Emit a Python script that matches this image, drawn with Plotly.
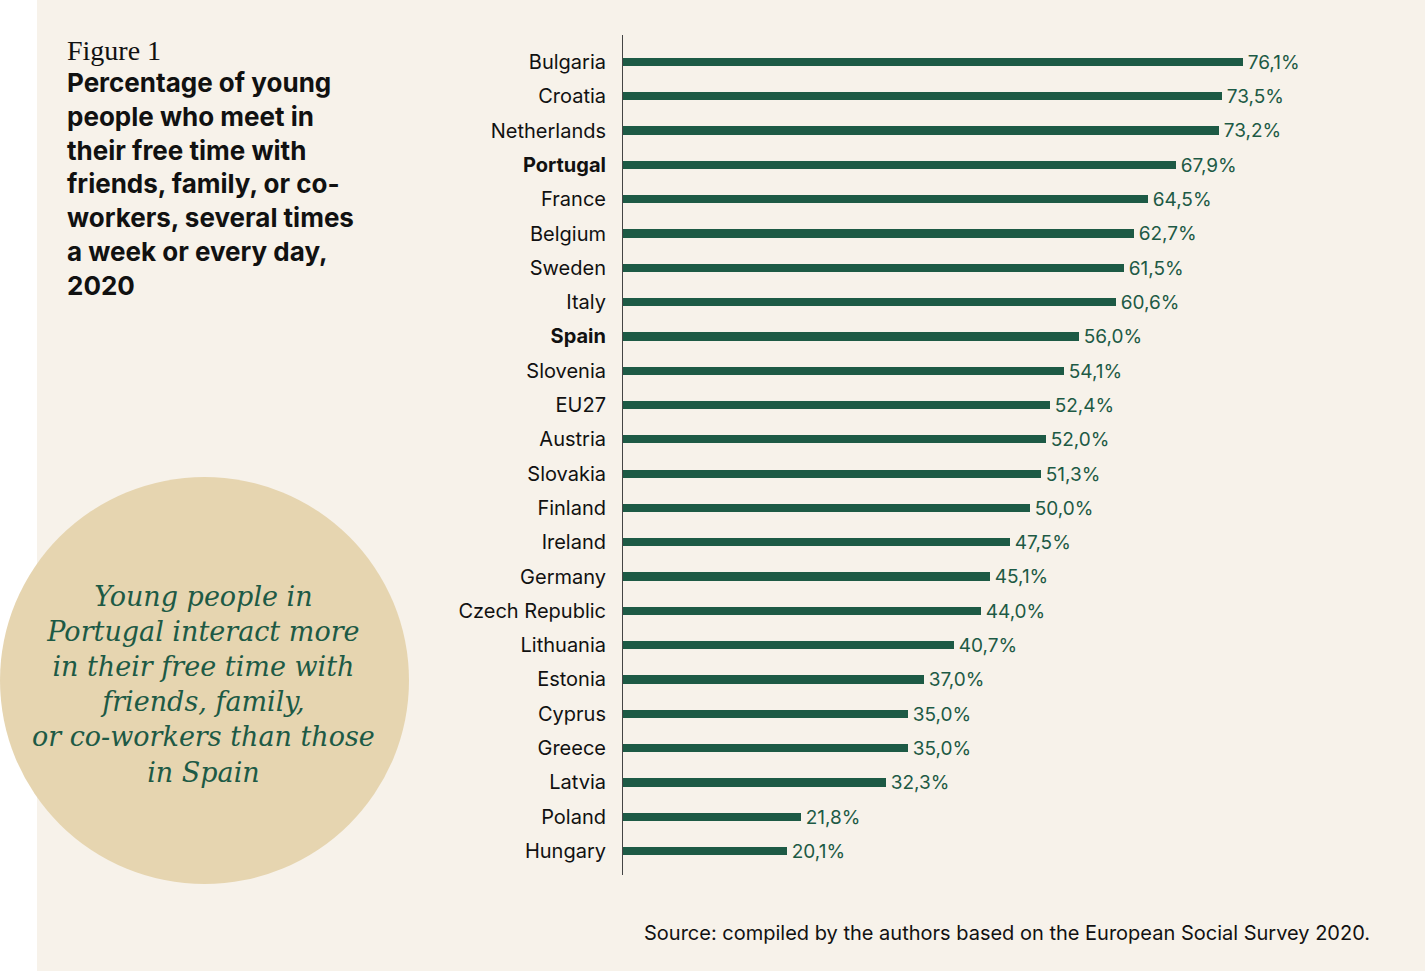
import plotly.graph_objects as go

# data
countries = ["Bulgaria", "Croatia", "Netherlands", "Portugal", "France", "Belgium",
             "Sweden", "Italy", "Spain", "Slovenia", "EU27", "Austria", "Slovakia",
             "Finland", "Ireland", "Germany", "Czech Republic", "Lithuania", "Estonia",
             "Cyprus", "Greece", "Latvia", "Poland", "Hungary"]
values = [76.1, 73.5, 73.2, 67.9, 64.5, 62.7, 61.5, 60.6, 56.0, 54.1, 52.4, 52.0,
          51.3, 50.0, 47.5, 45.1, 44.0, 40.7, 37.0, 35.0, 35.0, 32.3, 21.8, 20.1]
highlight = ["Portugal", "Spain"]

tick_text = ["<b>%s</b>" % c if c in highlight else c for c in countries]

GREEN = "#1d5a45"
CREAM = "#f7f2ea"
BEIGE = "#e6d5b0"

W, H = 1425, 971
L, R, T, B = 623, 0, 35, 96


def px(x):
    return (x - L) / (W - L - R)


def py(y):
    return (H - B - y) / (H - T - B)


fig = go.Figure()
fig.add_trace(go.Bar(
    x=values,
    y=countries,
    orientation="h",
    width=0.24,
    marker=dict(color=GREEN, line=dict(width=0)),
    texttemplate="\u200a%{x:.1f}%",
    textposition="outside",
    constraintext="none",
    cliponaxis=False,
    textfont=dict(family="Inter", size=19, color=GREEN),
    hoverinfo="skip",
))

shapes = [
    # cream panel, leaving a white strip at the left edge
    dict(type="rect", xref="paper", yref="paper", layer="below",
         x0=px(37), x1=px(W), y0=py(0), y1=py(H),
         fillcolor=CREAM, line=dict(width=0)),
    # callout circle
    dict(type="circle", xref="paper", yref="paper", layer="below",
         x0=px(0), x1=px(409), y0=py(477), y1=py(884),
         fillcolor=BEIGE, line=dict(width=0)),
]

annotations = [
    dict(text="Figure 1", x=px(65), y=py(50), xref="paper", yref="paper",
         xanchor="left", yanchor="middle", showarrow=False, align="left",
         font=dict(family="Liberation Serif", size=28, color="#111")),
    dict(text="<b>Percentage of young<br>people who meet in<br>their free time with<br>"
              "friends, family, or co-<br>workers, several times<br>a week or every day,<br>2020</b>",
         x=px(65), y=py(184), xref="paper", yref="paper",
         xanchor="left", yanchor="middle", showarrow=False, align="left",
         font=dict(family="Inter", size=26, color="#111")),
    dict(text="<i>Young people in<br>Portugal interact more<br>in their free time with<br>"
              "friends, family,<br>or co-workers than those<br>in Spain</i>",
         x=px(204), y=py(684), xref="paper", yref="paper",
         xanchor="center", yanchor="middle", showarrow=False, align="center",
         font=dict(family="DejaVu Serif", size=27, color=GREEN)),
    dict(text="Source: compiled by the authors based on the European Social Survey 2020.",
         x=px(1372), y=py(933), xref="paper", yref="paper",
         xanchor="right", yanchor="middle", showarrow=False, align="right",
         font=dict(family="Inter", size=20, color="#111")),
]

fig.update_layout(
    width=W,
    height=H,
    margin=dict(l=L, r=R, t=T, b=B, pad=0),
    paper_bgcolor="white",
    plot_bgcolor="rgba(0,0,0,0)",
    separators=",.",
    showlegend=False,
    bargap=0,
    shapes=shapes,
    annotations=annotations,
    xaxis=dict(range=[0, (W - L - R) / 8.143], visible=False, fixedrange=True),
    yaxis=dict(
        type="category",
        categoryorder="array",
        categoryarray=countries,
        tickvals=countries,
        ticktext=tick_text,
        range=[23.7, -0.787],
        showline=True,
        linecolor="#444",
        linewidth=1,
        showgrid=False,
        zeroline=False,
        ticks="",
        ticklabelstandoff=12,
        tickfont=dict(family="Inter", size=20, color="#111"),
        fixedrange=True,
    ),
)

# drop the default page margin so the figure sits at the top-left corner
fig.write_html("out.html", config={"displayModeBar": False},
               post_script="document.body.style.margin='0';")
